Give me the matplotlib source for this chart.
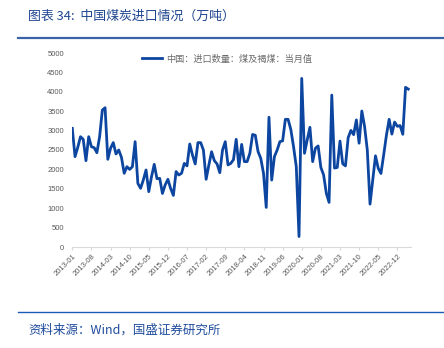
import matplotlib
matplotlib.use("Agg")
import matplotlib.pyplot as plt
from matplotlib.lines import Line2D
import numpy as np
import pandas as pd

plt.rcParams['font.family'] = ['Noto Sans CJK SC', 'DejaVu Sans']

# monthly coal imports (10k tonnes), 2013-01 .. 2023-04
start_month = "2013-01"
values = [
    3058, 2328, 2568, 2843, 2775, 2225, 2843, 2585, 2560, 2430, 2843, 3530,
    3590, 2260, 2543, 2690, 2397, 2500, 2310, 1900, 2070, 2000, 2070, 2715,
    1640, 1512, 1727, 1985, 1426, 1812, 2130, 1760, 1770, 1380, 1600, 1745,
    1510, 1330, 1945, 1855, 1900, 2155, 2090, 2655, 2370, 2140, 2690, 2690,
    2500, 1745, 2115, 2455, 2225, 2140, 1915, 2500, 2715, 2115, 2155, 2250,
    2775, 2070, 2645, 2200, 2200, 2415, 2900, 2880, 2460, 2285, 1900, 1020,
    3345, 1725, 2330, 2500, 2715, 2735, 3290, 3290, 3030, 2585, 2070, 270,
    4345, 2415, 2760, 3085, 2200, 2545, 2605, 2050, 1860, 1385, 1150, 3915,
    2035, 2050, 2730, 2145, 2090, 2820, 3005, 2895, 3275, 2675, 3505, 3110,
    2500, 1105, 1730, 2350, 2030, 1895, 2375, 2880, 3290, 2910, 3220, 3110,
    3130, 2905, 4115, 4070,
]
months = pd.period_range(start_month, periods=len(values), freq="M").strftime("%Y-%m").tolist()
series_label = "中国：进口数量：煤及褐煤：当月值"
title = "图表 34:  中国煤炭进口情况（万吨）"
source = "资料来源：Wind，国盛证券研究所"
yticks = list(range(0, 5001, 500))

W, H = 444, 348
fig = plt.figure(figsize=(W / 100, H / 100), dpi=100)
fig.patch.set_facecolor("white")

ax = fig.add_axes([72.3 / W, 1 - 247 / H, (411 - 72.3) / W, (247 - 53) / H])
x = np.arange(len(values))
ax.plot(x, values, color="#0D46A0", lw=2.0, solid_joinstyle="round", label=series_label)

ax.set_xlim(0, len(values))
ax.set_ylim(0, 5000)
ax.set_yticks(yticks)
ax.set_yticklabels([str(v) for v in yticks], fontsize=5.5, color="#595959", family="Liberation Sans")
tick_pos = list(range(0, len(values), 7))
ax.set_xticks(tick_pos)
ax.set_xticklabels([months[i] for i in tick_pos], rotation=45, ha="right", va="top",
                   rotation_mode="anchor", fontsize=5.5, color="#595959", family="Liberation Sans")
ax.tick_params(axis="y", length=0, pad=6)
ax.tick_params(axis="x", length=2.5, color="#D9D9D9", pad=2)
for s in ["top", "right", "left"]:
    ax.spines[s].set_visible(False)
ax.spines["bottom"].set_color("#D9D9D9")
ax.spines["bottom"].set_linewidth(0.8)

leg = ax.legend(loc="center", bbox_to_anchor=(227 / W, 1 - 59 / H), bbox_transform=fig.transFigure,
                frameon=False, fontsize=6.6, handlelength=2.2, handletextpad=0.4,
                borderaxespad=0, borderpad=0)
leg.get_texts()[0].set_color("#6B6B6B")

fig.text(28 / W, 1 - 16 / H, title, fontsize=9.3, color="#1F4690", ha="left", va="center")
fig.add_artist(Line2D([18 / W, 1], [1 - 38 / H, 1 - 38 / H], transform=fig.transFigure,
                      color="#3B64A8", lw=1.6))
fig.add_artist(Line2D([18 / W, 1], [1 - 312 / H, 1 - 312 / H], transform=fig.transFigure,
                      color="#1A5BB5", lw=1.0))
fig.text(28 / W, 1 - 330 / H, source, fontsize=9.0, color="#1F4C9C", ha="left", va="center")

fig.savefig("out.png", dpi=100, facecolor="white")
